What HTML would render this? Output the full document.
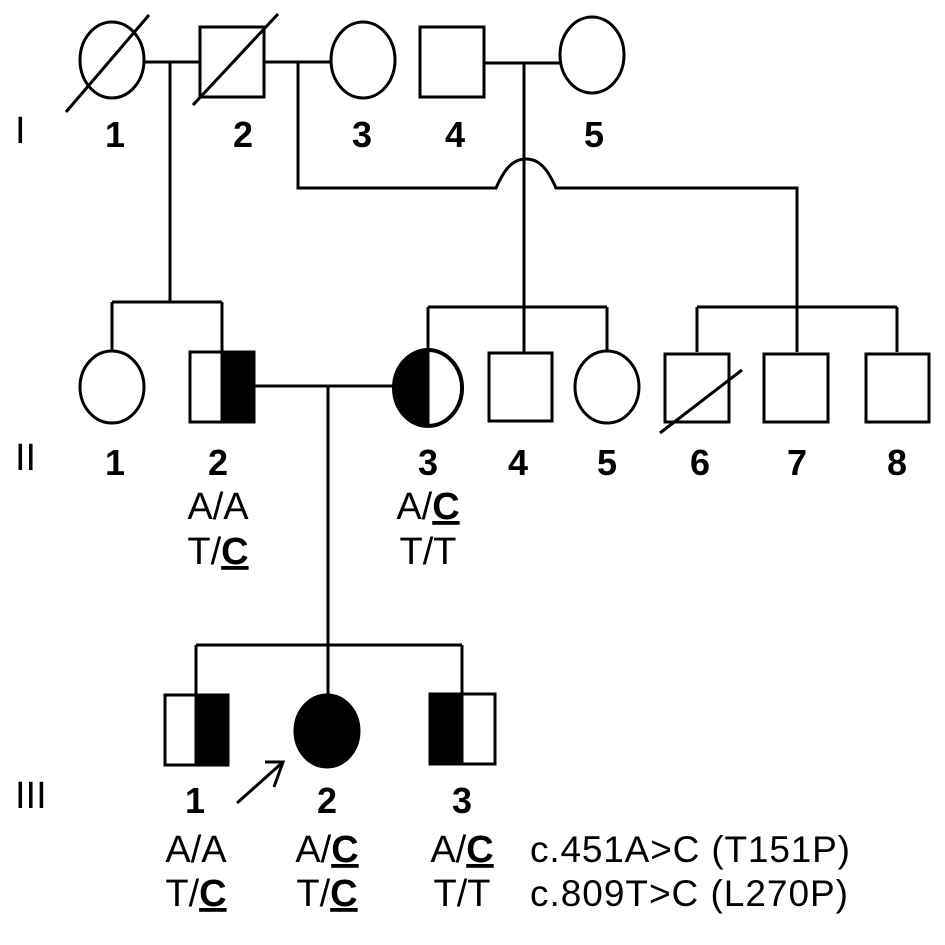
<!DOCTYPE html>
<html><head><meta charset="utf-8"><style>html,body{margin:0;padding:0;background:#fff}svg{display:block}</style></head>
<body>
<svg width="945" height="945" viewBox="0 0 945 945" xmlns="http://www.w3.org/2000/svg" font-family="Liberation Sans, Arial, sans-serif">
<g fill="none" stroke="#000" stroke-width="3">
<!-- Gen I -->
<ellipse cx="112" cy="60" rx="32" ry="38" fill="#fff"/>
<line x1="66" y1="112" x2="149" y2="15"/>
<rect x="200" y="27" width="64" height="70" fill="#fff"/>
<line x1="193" y1="105" x2="278" y2="14"/>
<ellipse cx="363" cy="60" rx="32" ry="38" fill="#fff"/>
<rect x="420" y="27" width="64" height="70" fill="#fff"/>
<ellipse cx="592" cy="55" rx="32" ry="38" fill="#fff"/>
<line x1="144" y1="62" x2="200" y2="62"/>
<line x1="264" y1="62" x2="331" y2="62"/>
<line x1="484" y1="63" x2="560" y2="63"/>
<!-- I-1/I-2 children -->
<line x1="170" y1="62" x2="170" y2="302"/>
<line x1="112" y1="302" x2="222" y2="302"/>
<line x1="112" y1="302" x2="112" y2="352"/>
<line x1="222" y1="302" x2="222" y2="352"/>
<!-- I-2/I-3 children with hump -->
<path d="M298 62 V188 H496 C504 170 512 159 526 159 C540 159 548 170 556 188 H797 V352"/>
<line x1="697" y1="307" x2="897" y2="307"/>
<line x1="697" y1="307" x2="697" y2="352"/>
<line x1="897" y1="307" x2="897" y2="352"/>
<!-- I-4/I-5 children -->
<line x1="524" y1="63" x2="524" y2="352"/>
<line x1="428" y1="307" x2="607" y2="307"/>
<line x1="428" y1="307" x2="428" y2="350"/>
<line x1="607" y1="307" x2="607" y2="352"/>
<!-- Gen II -->
<ellipse cx="112" cy="387" rx="32" ry="36" fill="#fff"/>
<rect x="190" y="352" width="64" height="70" fill="#fff"/>
<rect x="222" y="352" width="32" height="70" fill="#000"/>
<path d="M428 350 A34 38 0 0 0 428 426 Z" fill="#000"/>
<ellipse cx="428" cy="388" rx="34" ry="38" stroke-width="4"/>
<line x1="254" y1="386" x2="394" y2="386"/>
<line x1="328" y1="386" x2="328" y2="645"/>
<rect x="489" y="353" width="63" height="68" fill="#fff"/>
<ellipse cx="607" cy="387" rx="32" ry="36" fill="#fff"/>
<rect x="665" y="354" width="64" height="68" fill="#fff"/>
<line x1="660" y1="433" x2="742" y2="370"/>
<rect x="764" y="354" width="64" height="68" fill="#fff"/>
<rect x="866" y="354" width="63" height="68" fill="#fff"/>
<!-- Gen III -->
<line x1="196" y1="645" x2="462" y2="645"/>
<line x1="196" y1="645" x2="196" y2="695"/>
<line x1="328" y1="645" x2="328" y2="695"/>
<line x1="462" y1="645" x2="462" y2="695"/>
<rect x="165" y="695" width="63" height="70" fill="#fff"/>
<rect x="196" y="695" width="32" height="70" fill="#000"/>
<ellipse cx="327" cy="731" rx="32" ry="36" fill="#000"/>
<rect x="430" y="694" width="65" height="70" fill="#fff"/>
<rect x="430" y="694" width="32" height="70" fill="#000"/>
<line x1="237" y1="803" x2="283" y2="762"/>
<polyline points="265,762 283,762 274,787"/>
</g>
<g font-size="36" font-weight="bold" text-anchor="middle" fill="#000">
<text x="115" y="147">1</text><text x="243" y="147">2</text><text x="362" y="147">3</text><text x="455" y="147">4</text><text x="594" y="147">5</text>
<text x="115" y="475">1</text><text x="218" y="475">2</text><text x="428" y="475">3</text><text x="518" y="475">4</text><text x="607" y="475">5</text><text x="700" y="475">6</text><text x="797" y="475">7</text><text x="897" y="475">8</text>
<text x="195" y="813">1</text><text x="327" y="813">2</text><text x="462" y="813">3</text>
</g>
<g font-size="38" fill="#000">
<text x="15" y="143">I</text>
<text x="15" y="470">II</text>
<text x="15" y="808">III</text>
</g>
<g font-size="38" text-anchor="middle" fill="#000">
<text x="218" y="519">A/A</text>
<text x="218" y="564">T/<tspan font-weight="bold" text-decoration="underline">C</tspan></text>
<text x="428" y="519">A/<tspan font-weight="bold" text-decoration="underline">C</tspan></text>
<text x="428" y="564">T/T</text>
<text x="196" y="862">A/A</text>
<text x="196" y="906">T/<tspan font-weight="bold" text-decoration="underline">C</tspan></text>
<text x="327" y="862">A/<tspan font-weight="bold" text-decoration="underline">C</tspan></text>
<text x="327" y="906">T/<tspan font-weight="bold" text-decoration="underline">C</tspan></text>
<text x="462" y="862">A/<tspan font-weight="bold" text-decoration="underline">C</tspan></text>
<text x="462" y="906">T/T</text>
</g>
<g font-size="37" fill="#000">
<text x="530" y="862" textLength="320">c.451A&gt;C (T151P)</text>
<text x="530" y="906" textLength="318">c.809T&gt;C (L270P)</text>
</g>
</svg>
</body></html>
